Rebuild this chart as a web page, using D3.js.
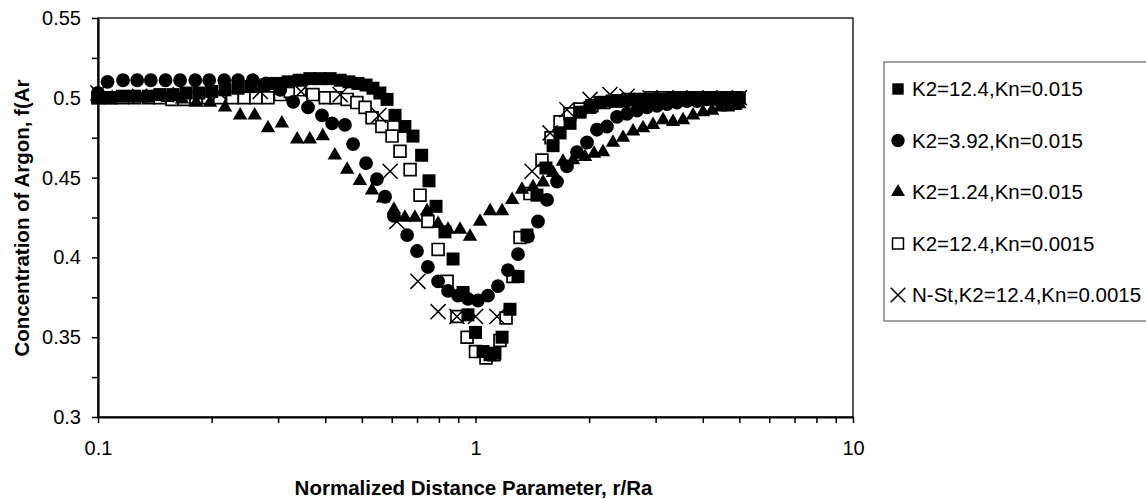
<!DOCTYPE html>
<html>
<head>
<meta charset="utf-8">
<script src="https://cdn.jsdelivr.net/npm/d3@7"></script>
<style>
  body { margin: 0; background: #fff; }
  text { font-family: "Liberation Sans", Arial, sans-serif; fill: #000; }
</style>
</head>
<body>
<div id="chart"></div>
<script>
// series data: [r/Ra, f(Ar)]
var seriesNames = ["K2=12.4,Kn=0.015", "K2=3.92,Kn=0.015", "K2=1.24,Kn=0.015",
                   "K2=12.4,Kn=0.0015", "N-St,K2=12.4,Kn=0.0015"];

var sqFilled = [[0.1,0.500],[0.108,0.500],[0.116,0.501],[0.125,0.501],[0.136,0.501],[0.146,0.502],
  [0.158,0.502],[0.171,0.503],[0.185,0.503],[0.2,0.504],[0.217,0.505],[0.235,0.506],[0.254,0.507],
  [0.275,0.508],[0.296,0.509],[0.319,0.510],[0.341,0.511],[0.364,0.512],[0.387,0.512],[0.412,0.512],
  [0.438,0.511],[0.462,0.510],[0.488,0.509],[0.513,0.508],[0.535,0.506],[0.558,0.503],[0.583,0.499],
  [0.612,0.489],[0.65,0.482],[0.683,0.476],[0.72,0.464],[0.753,0.448],[0.786,0.432],[0.83,0.416],
  [0.872,0.399],[0.927,0.378],[0.955,0.364],[1.0,0.353],[1.047,0.341],[1.093,0.339],[1.126,0.340],
  [1.176,0.350],[1.234,0.3675],[1.296,0.388],[1.369,0.414],[1.455,0.439],[1.537,0.456],[1.605,0.470],
  [1.675,0.478],[1.78,0.484],[1.892,0.491],[2.011,0.494],[2.137,0.497],[2.299,0.498],[2.474,0.498],
  [2.662,0.499],[2.864,0.499],[3.082,0.499],[3.316,0.5],[3.568,0.5],[3.838,0.5],[4.13,0.5],
  [4.444,0.5],[4.781,0.5],[5.0,0.5]];

var circles = [[0.1,0.503],[0.106,0.510],[0.1165,0.511],[0.127,0.511],[0.138,0.511],[0.151,0.511],
  [0.165,0.511],[0.181,0.511],[0.197,0.511],[0.216,0.511],[0.235,0.511],[0.257,0.511],[0.279,0.509],
  [0.304,0.505],[0.329,0.4975],[0.360,0.494],[0.392,0.489],[0.417,0.484],[0.451,0.483],[0.474,0.471],
  [0.513,0.459],[0.548,0.449],[0.576,0.438],[0.608,0.426],[0.659,0.414],[0.70,0.404],[0.748,0.394],
  [0.796,0.385],[0.846,0.379],[0.899,0.376],[0.955,0.374],[1.015,0.373],[1.079,0.376],[1.147,0.382],
  [1.219,0.392],[1.296,0.402],[1.377,0.413],[1.464,0.4225],[1.547,0.436],[1.644,0.4475],[1.747,0.457],
  [1.857,0.466],[1.974,0.472],[2.098,0.480],[2.23,0.482],[2.371,0.488],[2.52,0.490],[2.678,0.492],
  [2.847,0.494],[3.026,0.495],[3.216,0.496],[3.419,0.497],[3.634,0.498],[3.863,0.498],[4.106,0.499],
  [4.364,0.499],[4.637,0.499],[4.93,0.5]];

var triangles = [[0.1,0.5],[0.109,0.5],[0.119,0.5],[0.129,0.5],[0.141,0.501],[0.153,0.5],[0.167,0.499],
  [0.182,0.497],[0.198,0.497],[0.217,0.494],[0.238,0.489],[0.26,0.489],[0.282,0.481],[0.307,0.484],
  [0.337,0.474],[0.364,0.474],[0.394,0.476],[0.424,0.464],[0.457,0.455],[0.494,0.448],[0.532,0.442],
  [0.569,0.437],[0.608,0.430],[0.65,0.425],[0.691,0.425],[0.744,0.429],[0.796,0.421],[0.846,0.4175],
  [0.91,0.4175],[0.967,0.413],[1.028,0.4225],[1.093,0.429],[1.176,0.429],[1.25,0.436],[1.328,0.4425],
  [1.42,0.444],[1.51,0.447],[1.605,0.453],[1.705,0.460],[1.813,0.461],[1.95,0.463],[2.061,0.465],
  [2.177,0.466],[2.313,0.472],[2.459,0.475],[2.614,0.479],[2.778,0.481],[2.953,0.483],[3.139,0.486],
  [3.336,0.485],[3.546,0.486],[3.77,0.489],[4.006,0.491],[4.232,0.492],[4.444,0.494],[4.667,0.494],
  [4.88,0.495],[5.0,0.496]];

var sqOpen = [[0.1,0.5],[0.108,0.5],[0.116,0.5],[0.125,0.5],[0.136,0.5],[0.146,0.5],[0.157,0.499],
  [0.169,0.499],[0.182,0.5],[0.196,0.5],[0.21,0.5],[0.227,0.5],[0.244,0.5],[0.262,0.5],[0.282,0.5],
  [0.304,0.502],[0.323,0.504],[0.343,0.505],[0.371,0.502],[0.40,0.5],[0.427,0.5],[0.457,0.499],
  [0.485,0.497],[0.51,0.494],[0.532,0.4875],[0.565,0.482],[0.601,0.476],[0.631,0.4665],[0.671,0.455],
  [0.713,0.439],[0.748,0.4225],[0.796,0.405],[0.841,0.385],[0.893,0.363],[0.95,0.350],[1.0,0.341],
  [1.066,0.337],[1.12,0.339],[1.161,0.348],[1.205,0.362],[1.257,0.388],[1.312,0.4125],[1.394,0.440],
  [1.5,0.461],[1.585,0.475],[1.675,0.485],[1.78,0.490],[1.892,0.493],[2.035,0.495],[2.189,0.497],
  [2.357,0.498],[2.535,0.499],[2.729,0.499],[2.935,0.5],[3.158,0.5],[3.398,0.5],[3.656,0.5],
  [3.933,0.5],[4.232,0.5],[4.553,0.5],[4.898,0.5]];

var crosses = [[0.1,0.503],[0.129,0.501],[0.165,0.502],[0.21,0.503],[0.269,0.504],[0.345,0.504],
  [0.438,0.502],[0.555,0.489],[0.594,0.454],[0.619,0.4225],[0.704,0.385],[0.796,0.366],[0.893,0.363],
  [1.0,0.363],[1.14,0.363],[1.412,0.454],[1.576,0.478],[1.747,0.4925],[2.011,0.499],[2.271,0.502],
  [2.52,0.501],[2.90,0.5],[3.48,0.5],[4.18,0.5],[5.0,0.5]];

var yTickValues = [0.3, 0.35, 0.4, 0.45, 0.5, 0.55];
var xTickLabels = [0.1, 1, 10];

var W = 1146, H = 499;
var margin = { top: 18, right: 293, bottom: 82, left: 98 },
    width = W - margin.left - margin.right,
    height = H - margin.top - margin.bottom;

var svg = d3.select("#chart").append("svg")
    .attr("width", W)
    .attr("height", H);

var g = svg.append("g")
    .attr("transform", "translate(" + margin.left + "," + margin.top + ")");

var x = d3.scaleLog().domain([0.1, 10]).range([0, width]);
var y = d3.scaleLinear().domain([0.3, 0.55]).range([height, 0]);

// plot frame (top / right thin)
g.append("rect")
    .attr("width", width).attr("height", height)
    .attr("fill", "none").attr("stroke", "#000").attr("stroke-width", 1.3);

// y axis with minor ticks every 0.025
var yAxis = d3.axisLeft(y)
    .tickValues(d3.range(0, 11).map(function (i) { return 0.3 + i * 0.025; }))
    .tickSize(6).tickSizeOuter(0).tickPadding(11)
    .tickFormat(function (d) {
        var hit = yTickValues.find(function (v) { return Math.abs(v - d) < 1e-9; });
        return hit === undefined ? "" : String(hit);
    });
var gy = g.append("g").call(yAxis);

// x axis, log ticks
var xTickValues = [];
[0.1, 1].forEach(function (b) { for (var k = 1; k < 10; k++) xTickValues.push(b * k); });
xTickValues.push(10);
var xAxis = d3.axisBottom(x)
    .tickValues(xTickValues)
    .tickSize(6).tickSizeOuter(0).tickPadding(18)
    .tickFormat(function (d) {
        var hit = xTickLabels.find(function (v) { return Math.abs(v - d) < 1e-9; });
        return hit === undefined ? "" : String(hit);
    });
var gx = g.append("g").attr("transform", "translate(0," + height + ")").call(xAxis);

[gx, gy].forEach(function (a) {
    a.select(".domain").attr("stroke", "#000").attr("stroke-width", 2.2);
    a.selectAll(".tick line").attr("stroke", "#000").attr("stroke-width", 1.5);
    a.selectAll("text").style("font-size", "20px").attr("fill", "#000");
});

// markers
var shapes = [
    { data: sqOpen,    type: d3.symbolSquare,   size: 140, fill: "#fff", stroke: "#000", sw: 1.7 },
    { data: crosses,   type: d3.symbolTimes,    size: 150, fill: "none", stroke: "#000", sw: 1.5 },
    { data: triangles, type: d3.symbolTriangle, size: 90,  fill: "#000", stroke: "none", sw: 0 },
    { data: circles,   type: d3.symbolCircle,   size: 150, fill: "#000", stroke: "none", sw: 0 },
    { data: sqFilled,  type: d3.symbolSquare,   size: 169, fill: "#000", stroke: "none", sw: 0 }
];

shapes.forEach(function (s) {
    g.append("g").selectAll("path")
        .data(s.data)
        .enter().append("path")
        .attr("transform", function (d) { return "translate(" + x(d[0]) + "," + y(d[1]) + ")"; })
        .attr("d", d3.symbol().type(s.type).size(s.size))
        .attr("fill", s.fill)
        .attr("stroke", s.stroke)
        .attr("stroke-width", s.sw);
});

// axis titles
svg.append("text")
    .attr("x", margin.left + width / 2 - 2)
    .attr("y", 495)
    .attr("text-anchor", "middle")
    .style("font-size", "20.5px").style("font-weight", "bold")
    .text("Normalized Distance Parameter, r/Ra");

svg.append("text")
    .attr("transform", "translate(29,218) rotate(-90)")
    .attr("text-anchor", "middle")
    .style("font-size", "20.5px").style("font-weight", "bold")
    .text("Concentration of Argon, f(Ar");

// legend
var legend = svg.append("g").attr("transform", "translate(884,62)");
legend.append("rect")
    .attr("width", 300).attr("height", 259)
    .attr("fill", "#fff").attr("stroke", "#666").attr("stroke-width", 1.2);

var legendSyms = [
    { type: d3.symbolSquare,   size: 130, fill: "#000", stroke: "none", sw: 0 },
    { type: d3.symbolCircle,   size: 140, fill: "#000", stroke: "none", sw: 0 },
    { type: d3.symbolTriangle, size: 85,  fill: "#000", stroke: "none", sw: 0 },
    { type: d3.symbolSquare,   size: 120, fill: "#fff", stroke: "#000", sw: 1.5 },
    { type: d3.symbolTimes,    size: 140, fill: "none", stroke: "#000", sw: 1.5 }
];

var items = legend.selectAll(".item")
    .data(seriesNames)
    .enter().append("g")
    .attr("class", "item")
    .attr("transform", function (d, i) { return "translate(0," + (27 + i * 51.5) + ")"; });

items.append("path")
    .attr("transform", "translate(14,0)")
    .attr("d", function (d, i) { return d3.symbol().type(legendSyms[i].type).size(legendSyms[i].size)(); })
    .attr("fill", function (d, i) { return legendSyms[i].fill; })
    .attr("stroke", function (d, i) { return legendSyms[i].stroke; })
    .attr("stroke-width", function (d, i) { return legendSyms[i].sw; });

items.append("text")
    .attr("x", 28)
    .attr("dy", "0.36em")
    .style("font-size", "20.5px")
    .text(function (d) { return d; });
</script>
</body>
</html>
